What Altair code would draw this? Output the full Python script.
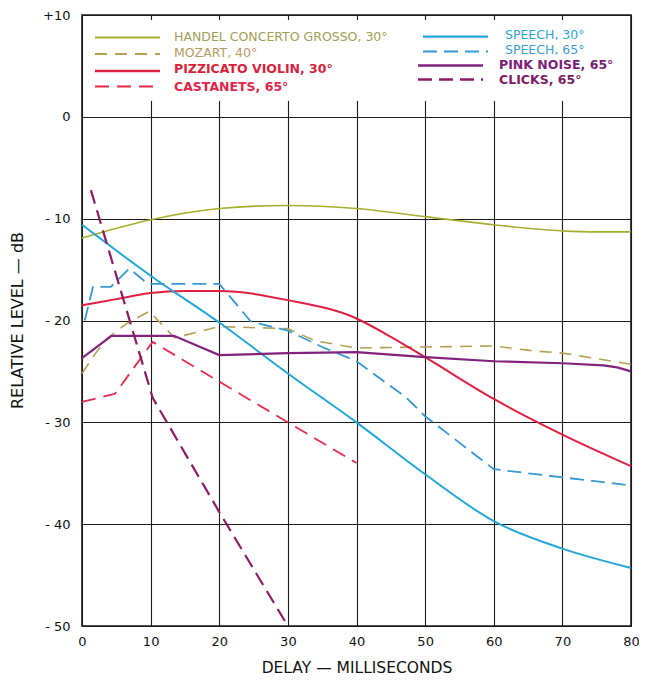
import altair as alt
import pandas as pd

# ---------------- data ----------------
SERIES = [
    "HANDEL CONCERTO GROSSO, 30°",
    "MOZART, 40°",
    "PIZZICATO VIOLIN, 30°",
    "CASTANETS, 65°",
    "SPEECH, 30°",
    "SPEECH, 65°",
    "PINK NOISE, 65°",
    "CLICKS, 65°",
]

handel_x = [0, 10, 20, 30, 40, 50, 60, 70, 75, 80]
handel_y = [-11.9, -10.1, -9.0, -8.7, -9.0, -9.8, -10.6, -11.2, -11.3, -11.3]

mozart_x = [0, 2, 3.6, 6.5, 9.8, 13.5, 20, 30, 34, 40, 50, 60, 66, 70, 80]
mozart_y = [-25.2, -23.2, -21.8, -20.3, -19.1, -21.7, -20.6, -20.8, -22.0, -22.7, -22.6, -22.5, -23.0, -23.2, -24.3]

violin_x = [0, 5, 10, 15, 20, 30, 40, 45, 50, 60, 70, 80]
violin_y = [-18.5, -17.9, -17.3, -17.1, -17.1, -18.0, -19.8, -21.6, -23.6, -27.7, -31.2, -34.3]

castanets_x = [0, 4.8, 10.3, 20, 30, 40]
castanets_y = [-28.0, -27.2, -22.1, -26.0, -30.0, -34.0]

speech30_x = [0, 10, 20, 30, 40, 50, 60, 70, 80]
speech30_y = [-10.6, -15.6, -20.2, -25.2, -30.0, -35.1, -39.7, -42.4, -44.3]

speech65_x = [0.4, 1.6, 4.2, 6.9, 9.6, 20, 24.6, 30, 35, 40, 47.3, 50, 59.6, 60, 70, 80]
speech65_y = [-20.0, -16.7, -16.7, -14.9, -16.4, -16.4, -20.1, -21.0, -22.6, -24.0, -27.6, -29.4, -34.4, -34.6, -35.4, -36.2]

pink_x = [0, 4.3, 13.4, 20, 30, 40, 50, 60, 70, 76, 78, 80]
pink_y = [-23.7, -21.5, -21.5, -23.4, -23.2, -23.1, -23.6, -24.0, -24.2, -24.4, -24.6, -25.0]

clicks_x = [1.3, 10.3, 20, 30]
clicks_y = [-7.2, -27.6, -38.8, -50.0]

CURVES = [
    (SERIES[0], handel_x, handel_y),
    (SERIES[1], mozart_x, mozart_y),
    (SERIES[2], violin_x, violin_y),
    (SERIES[3], castanets_x, castanets_y),
    (SERIES[4], speech30_x, speech30_y),
    (SERIES[5], speech65_x, speech65_y),
    (SERIES[6], pink_x, pink_y),
    (SERIES[7], clicks_x, clicks_y),
]

X_TICKS = [0, 10, 20, 30, 40, 50, 60, 70, 80]
Y_TICKS = [-50, -40, -30, -20, -10, 0, 10]

# ---------------- styles ----------------
LINE_COLORS = ["#a6ae30", "#b5a052", "#e01f40", "#e8294f", "#22a6dc", "#3598d4", "#83217f", "#8e1a66"]
TEXT_COLORS = ["#a29e56", "#b79a62", "#d81f3c", "#e0244a", "#2fa5d6", "#3a9ed2", "#7c1d78", "#801c64"]
DASHES = [None, [12, 8], None, [14, 8], None, [14, 7], None, [14, 7]]
WIDTHS = [1.6, 1.6, 2.0, 1.8, 2.0, 1.8, 2.2, 2.2]
SMOOTH = [True, False, True, False, True, False, False, False]
WEIGHTS = ["normal", "normal", "bold", "bold", "normal", "normal", "bold", "bold"]

# legend layout (pixels inside plot area)
LEG_LINE_X = [(13, 78)] * 4 + [(341, 406), (341, 406), (336, 401), (336, 401)]
LEG_TEXT_X = [92] * 4 + [423, 423, 417, 417]
LEG_LINE_Y = [22.5, 39, 56, 71.5, 21.7, 36.5, 50.5, 64.5]
LEG_TEXT_Y = [21.7, 38.3, 54.3, 71.7, 20, 34.5, 50, 64.5]

W, H = 549, 611
FONT = "DejaVu Sans"

rows = []
for name, xs, ys in CURVES:
    for i, (xv, yv) in enumerate(zip(xs, ys)):
        rows.append({"series": name, "delay": xv, "level": yv, "idx": i})
df = pd.DataFrame(rows)

x_scale = alt.Scale(domain=[0, 80], nice=False, zero=False)
y_scale = alt.Scale(domain=[-50, 10], nice=False, zero=False)

x_axis = alt.Axis(
    values=X_TICKS, title="DELAY — MILLISECONDS", grid=True, ticks=False, domain=False,
    labelPadding=9, labelFontSize=13, labelFont=FONT, labelColor="#111",
    titleFontSize=15.5, titleFont=FONT, titleFontWeight="normal", titleColor="#111",
    titleY=41, titleBaseline="middle",
    gridColor="#1b1b1b", gridWidth=1.1, labelFlush=False,
)
y_axis = alt.Axis(
    values=Y_TICKS, title="RELATIVE LEVEL — dB", grid=True, ticks=False, domain=False,
    labelExpr="datum.value > 0 ? '+' + datum.value : (datum.value < 0 ? '- ' + abs(datum.value) : '0')",
    labelPadding=12, labelFontSize=13, labelFont=FONT, labelColor="#111",
    titleFontSize=16, titleFont=FONT, titleFontWeight="normal", titleColor="#111",
    titleX=-65, titleY=305, titleBaseline="middle",
    gridColor="#1b1b1b", gridWidth=1.1, labelFlush=False,
)

dummy = pd.DataFrame({"a": [0]})

layers = []
# axes host (invisible points so the axes/grid are drawn)
layers.append(
    alt.Chart(df).mark_point(opacity=0).encode(
        x=alt.X("delay:Q", scale=x_scale, axis=x_axis),
        y=alt.Y("level:Q", scale=y_scale, axis=y_axis),
    )
)
# white legend panel covering the grid
layers.append(
    alt.Chart(dummy).mark_rect(color="white").encode(
        x=alt.value(2), x2=alt.value(W - 2), y=alt.value(5), y2=alt.value(86)
    )
)

for i, (name, xs, ys) in enumerate(CURVES):
    mk = dict(color=LINE_COLORS[i], strokeWidth=WIDTHS[i],
              interpolate="monotone" if SMOOTH[i] else "linear")
    if DASHES[i]:
        mk["strokeDash"] = DASHES[i]
    layers.append(
        alt.Chart(df).transform_filter(alt.datum.series == name).mark_line(**mk).encode(
            x=alt.X("delay:Q", scale=x_scale, axis=x_axis),
            y=alt.Y("level:Q", scale=y_scale, axis=y_axis),
            order="idx:Q",
        )
    )

for i, name in enumerate(SERIES):
    rk = dict(color=LINE_COLORS[i], strokeWidth=WIDTHS[i] + 0.3)
    if DASHES[i]:
        rk["strokeDash"] = DASHES[i]
    layers.append(
        alt.Chart(dummy).mark_rule(**rk).encode(
            x=alt.value(LEG_LINE_X[i][0]), x2=alt.value(LEG_LINE_X[i][1]), y=alt.value(LEG_LINE_Y[i])
        )
    )
    layers.append(
        alt.Chart(dummy).mark_text(
            align="left", baseline="middle", font=FONT, fontSize=12.5,
            fontWeight=WEIGHTS[i], color=TEXT_COLORS[i],
        ).encode(x=alt.value(LEG_TEXT_X[i]), y=alt.value(LEG_TEXT_Y[i]), text=alt.value(name))
    )

chart = alt.layer(*layers).properties(
    width=W, height=H,
    autosize=alt.AutoSizeParams(type="none"),
    padding={"left": 74, "top": 7, "right": 8, "bottom": 51},
    background="white",
).configure_view(stroke="#1b1b1b", strokeWidth=1.6)

chart.save("out.html", embed_options={"renderer": "svg", "actions": False})
